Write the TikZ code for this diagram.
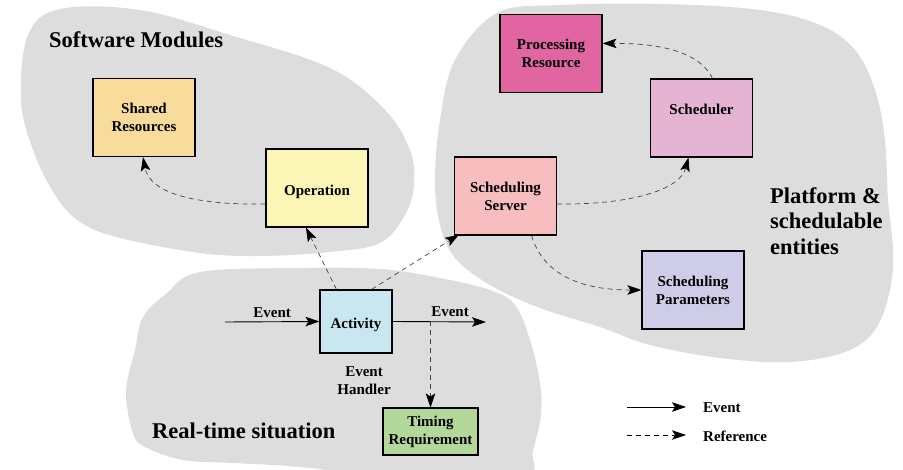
\documentclass[tikz,border=0pt]{standalone}
\usepackage{fontspec}
\setmainfont{Liberation Serif}
\usetikzlibrary{arrows.meta}

\definecolor{blobgray}{HTML}{DDDDDD}
\definecolor{cShared}{HTML}{F8DC9C}
\definecolor{cOper}{HTML}{FBF6B6}
\definecolor{cProc}{HTML}{E065A1}
\definecolor{cSched}{HTML}{E4B4D2}
\definecolor{cServer}{HTML}{F8BDBF}
\definecolor{cParam}{HTML}{CFCCE8}
\definecolor{cAct}{HTML}{C8E7F0}
\definecolor{cTiming}{HTML}{B4D89C}
\definecolor{refgray}{HTML}{444444}

\newcommand\lblfont{\fontsize{15}{18}\selectfont\bfseries}
\newcommand\ttlfont{\fontsize{22.5}{25.5}\selectfont\bfseries}

\begin{document}
\begin{tikzpicture}[x=1pt,y=-1pt,
  box/.style={draw=black,line width=1.1pt,inner sep=0pt,align=center,font=\lblfont,
    minimum width=102pt,minimum height=78pt},
  lbl/.style={inner sep=0pt,align=center,font=\lblfont},
  ttl/.style={inner sep=0pt,align=left,anchor=west,font=\ttlfont},
  tip/.style={-{Stealth[length=14pt,width=9.5pt,inset=3pt,black]}},
  evt/.style={tip,line width=0.9pt,black},
  ref/.style={tip,line width=0.7pt,refgray,dash pattern=on 5pt off 4pt}]

\useasboundingbox (0,0) rectangle (903,470);

% --- background regions ---
\fill[blobgray] plot[smooth cycle,tension=0.6] coordinates {
  (60,9) (140,10) (230,35) (330,68) (385,110) (410,150) (414,185) (405,215)
  (380,243) (330,252) (260,256) (200,253) (120,238) (80,222) (55,195)
  (33,150) (21,100) (28,35)};
\fill[blobgray] plot[smooth cycle,tension=0.6] coordinates {
  (497,13) (560,5) (663,4) (760,10) (820,25) (855,50) (875,90) (885,140)
  (888,200) (893,250) (890,290) (875,330) (845,352) (790,362) (720,358)
  (650,345) (600,327) (540,308) (490,285) (455,258) (440,225) (435,180)
  (440,120) (455,60)};
\fill[blobgray] plot[smooth cycle,tension=0.6] coordinates {
  (200,272) (300,268) (380,269) (440,278) (490,290) (515,305) (530,340)
  (540,383) (541,415) (533,450) (522,480) (400,478) (300,467) (233,463)
  (183,460) (145,447) (133,433) (126,392) (135,350) (143,317) (167,293)};

% --- region titles ---
\node[ttl] (tSoft) at (49,40) {Software Modules};
\node[ttl] (tPlat) at (770,221) {Platform \&\\schedulable\\entities};
\node[ttl] (tReal) at (152,431) {Real-time situation};

% --- boxes ---
\node[box,fill=cShared] (sr) at (144,117.5) {Shared\\Resources};
\node[box,fill=cOper,text height=18.5pt] (op) at (317,188) {Operation};
\node[box,fill=cProc] (pr) at (551,53.5) {Processing\\Resource};
\node[box,fill=cSched,text depth=16.5pt] (sch) at (701.5,118) {Scheduler};
\node[box,fill=cServer] (ss) at (505.5,196) {Scheduling\\Server};
\node[box,fill=cParam] (sp) at (693,290) {Scheduling\\Parameters};
\node[box,fill=cAct,minimum width=72pt,minimum height=63pt,text height=17pt] (act) at (356,321.5) {Activity};
\node[box,fill=cTiming,minimum width=95pt,minimum height=47pt] (tr) at (430.5,431.5) {Timing\\Requirement};

\node[lbl] (eh) at (364,381) {Event\\Handler};

% --- event flow ---
\coordinate (evin) at (225,322);
\coordinate (evout) at (486,322);
\coordinate (tap) at (tr.north |- act.east);
\draw[evt] (evin) -- node[lbl,above=4pt] (evinl) {Event} (act.west);
\draw[evt] (act.east) -- (evout);
\node[lbl] (evoutl) at (450,311.5) {Event};
\draw[ref] (tap) -- (tr.north);

% --- references ---
\draw[ref] ([yshift=-16pt]op.west) .. controls (200,205) and (150,195) .. ([xshift=-1pt]sr.south);
\draw[ref] ([xshift=17pt]act.north west) -- ([xshift=-11pt]op.south);
\draw[ref] ([xshift=-21pt]act.north east) -- ([xshift=5pt,yshift=1pt]ss.south west);
\draw[ref] ([yshift=-8pt]ss.east) .. controls (630,205) and (680,190) .. ([xshift=-13pt]sch.south);
\draw[ref] ([xshift=11pt]sch.north) .. controls (700,52) and (660,43) .. ([yshift=10pt]pr.east);
\draw[ref] ([xshift=26pt]ss.south) .. controls (545,280) and (590,290) .. (sp.west);

% --- legend ---
\coordinate (la1) at (627,407);
\coordinate (lb1) at (686,407);
\coordinate (la2) at (627,435);
\coordinate (lb2) at (686,435);
\draw[evt] (la1) -- (lb1);
\draw[ref,black] (la2) -- (lb2);
\node[lbl,anchor=west] (lt1) at (703,408) {Event};
\node[lbl,anchor=west] (lt2) at (703,436) {Reference};
\end{tikzpicture}
\end{document}
